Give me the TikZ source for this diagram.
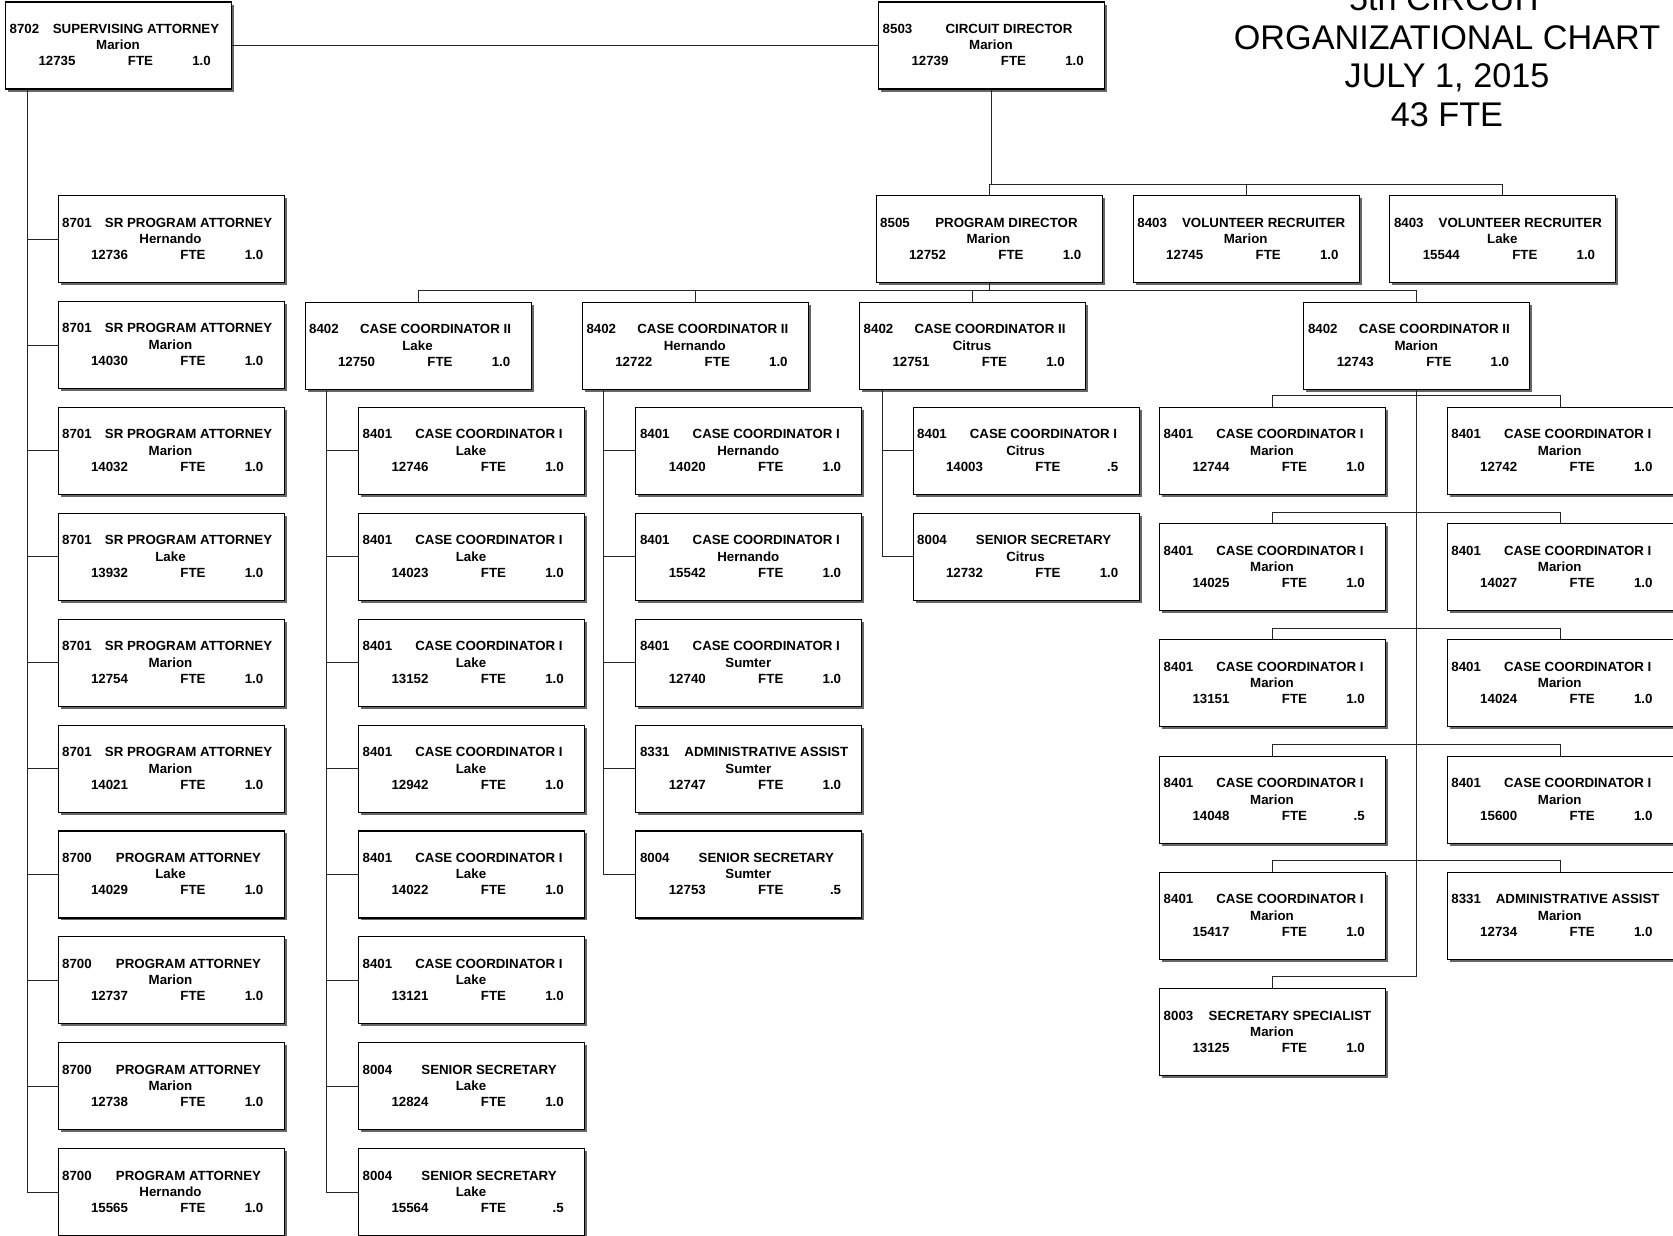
\documentclass[tikz,border=0pt]{standalone}
\usepackage{fontspec}
\setmainfont{Liberation Sans}
\usetikzlibrary{shadows}

\tikzset{
  jobbox/.style={draw=black, line width=1.1pt, fill=white,
    minimum width=226pt, minimum height=87pt, inner sep=0pt, anchor=north west,
    drop shadow={shadow xshift=2.5pt, shadow yshift=-2.5pt, fill=black!60, opacity=1}},
  txt/.style={inner sep=0pt, font=\fontsize{13.3}{15}\selectfont\bfseries},
  link/.style={draw=black!85, line width=0.9pt},
  headline/.style={inner sep=0pt, anchor=base, font=\fontsize{34.2}{39}\selectfont}
}

% #1 name, #2 left, #3 top, #4 code, #5 title, #6 location, #7 position number, #8 FTE value
\newcommand\placebox[8]{%
  \node[jobbox] (#1) at ({#2},{#3}) {};
  \path (#1.north west) ++(4.5,32)   node[txt,anchor=base west] {#4};
  \path (#1.north west) ++(131,32)   node[txt,anchor=base] {#5};
  \path (#1.north west) ++(113,48.5) node[txt,anchor=base] {#6};
  \path (#1.north west) ++(52,64.5)  node[txt,anchor=base] {#7};
  \path (#1.north west) ++(135.5,64.5) node[txt,anchor=base] {FTE};
  \path (#1.north west) ++(206,64.5) node[txt,anchor=base east] {#8};
}

\begin{document}
\begin{tikzpicture}[x=1pt,y=-1pt]
\useasboundingbox (0,0) rectangle (1673,1236);
\clip (0,0) rectangle (1673,1236);

% heading
\node[headline] (title1) at (1447,11)    {5th CIRCUIT};
\node[headline] (title2) at (1447,49.5)  {ORGANIZATIONAL CHART};
\node[headline] (title3) at (1447,88)    {JULY 1, 2015};
\node[headline] (title4) at (1447,126.5) {43 FTE};

% top level
\placebox{sup}{5}{1.5}{8702}{SUPERVISING ATTORNEY}{Marion}{12735}{1.0}
\placebox{dir}{878}{1.5}{8503}{CIRCUIT DIRECTOR}{Marion}{12739}{1.0}

% second level
\placebox{pd}{875.5}{195}{8505}{PROGRAM DIRECTOR}{Marion}{12752}{1.0}
\placebox{vm}{1132.7}{195}{8403}{VOLUNTEER RECRUITER}{Marion}{12745}{1.0}
\placebox{vl}{1389.3}{195}{8403}{VOLUNTEER RECRUITER}{Lake}{15544}{1.0}

% case coordinator II row
\placebox{c2l}{304.5}{301.7}{8402}{CASE COORDINATOR II}{Lake}{12750}{1.0}
\placebox{c2h}{581.8}{301.7}{8402}{CASE COORDINATOR II}{Hernando}{12722}{1.0}
\placebox{c2c}{859}{301.7}{8402}{CASE COORDINATOR II}{Citrus}{12751}{1.0}
\placebox{c2m}{1303.3}{301.7}{8402}{CASE COORDINATOR II}{Marion}{12743}{1.0}

% attorneys under the supervising attorney
\foreach \k/\c/\t/\l/\n/\f in {
  0/8701/SR PROGRAM ATTORNEY/Hernando/12736/1.0,
  1/8701/SR PROGRAM ATTORNEY/Marion/14030/1.0,
  2/8701/SR PROGRAM ATTORNEY/Marion/14032/1.0,
  3/8701/SR PROGRAM ATTORNEY/Lake/13932/1.0,
  4/8701/SR PROGRAM ATTORNEY/Marion/12754/1.0,
  5/8701/SR PROGRAM ATTORNEY/Marion/14021/1.0,
  6/8700/PROGRAM ATTORNEY/Lake/14029/1.0,
  7/8700/PROGRAM ATTORNEY/Marion/12737/1.0,
  8/8700/PROGRAM ATTORNEY/Marion/12738/1.0,
  9/8700/PROGRAM ATTORNEY/Hernando/15565/1.0}
  {\placebox{a\k}{57.5}{195+105.9*\k}{\c}{\t}{\l}{\n}{\f}}

% Lake staff
\foreach \k/\c/\t/\l/\n/\f in {
  2/8401/CASE COORDINATOR I/Lake/12746/1.0,
  3/8401/CASE COORDINATOR I/Lake/14023/1.0,
  4/8401/CASE COORDINATOR I/Lake/13152/1.0,
  5/8401/CASE COORDINATOR I/Lake/12942/1.0,
  6/8401/CASE COORDINATOR I/Lake/14022/1.0,
  7/8401/CASE COORDINATOR I/Lake/13121/1.0,
  8/8004/SENIOR SECRETARY/Lake/12824/1.0,
  9/8004/SENIOR SECRETARY/Lake/15564/.5}
  {\placebox{b\k}{358}{195+105.9*\k}{\c}{\t}{\l}{\n}{\f}}

% Hernando / Sumter staff
\foreach \k/\c/\t/\l/\n/\f in {
  2/8401/CASE COORDINATOR I/Hernando/14020/1.0,
  3/8401/CASE COORDINATOR I/Hernando/15542/1.0,
  4/8401/CASE COORDINATOR I/Sumter/12740/1.0,
  5/8331/ADMINISTRATIVE ASSIST/Sumter/12747/1.0,
  6/8004/SENIOR SECRETARY/Sumter/12753/.5}
  {\placebox{c\k}{635.3}{195+105.9*\k}{\c}{\t}{\l}{\n}{\f}}

% Citrus staff
\placebox{d2}{912.5}{406.8}{8401}{CASE COORDINATOR I}{Citrus}{14003}{.5}
\placebox{d3}{912.5}{512.7}{8004}{SENIOR SECRETARY}{Citrus}{12732}{1.0}

% Marion staff, two per row
\foreach \j/\nl/\fl/\cr/\tr/\nr/\fr in {
  0/12744/1.0/8401/CASE COORDINATOR I/12742/1.0,
  1/14025/1.0/8401/CASE COORDINATOR I/14027/1.0,
  2/13151/1.0/8401/CASE COORDINATOR I/14024/1.0,
  3/14048/.5/8401/CASE COORDINATOR I/15600/1.0,
  4/15417/1.0/8331/ADMINISTRATIVE ASSIST/12734/1.0}
  {\placebox{ml\j}{1159}{406.7+116.3*\j}{8401}{CASE COORDINATOR I}{Marion}{\nl}{\fl}
   \placebox{mr\j}{1446.7}{406.7+116.3*\j}{\cr}{\tr}{Marion}{\nr}{\fr}}
\placebox{ss}{1159}{988.3}{8003}{SECRETARY SPECIALIST}{Marion}{13125}{1.0}

% ---- connectors ----
\draw[link] (sup) -- (dir);

\coordinate (busA) at (0,184.5);
\draw[link] (dir.south) -- (dir.south |- busA);
\draw[link] (pd.north) -- (pd.north |- busA) -- (vl.north |- busA) -- (vl.north);
\draw[link] (vm.north) -- (vm.north |- busA);

\coordinate (busB) at (0,290);
\draw[link] (pd.south) -- (pd.south |- busB);
\draw[link] (c2l.north) -- (c2l.north |- busB) -- (c2m.north |- busB) -- (c2m.north);
\draw[link] (c2h.north) -- (c2h.north |- busB);
\draw[link] (c2c.north) -- (c2c.north |- busB);

% supervising attorney trunk
\coordinate (atr) at ([xshift=22pt]sup.south west);
\draw[link] (atr) -- (atr |- a9.west) -- (a9.west);
\foreach \k in {0,...,8} \draw[link] (atr |- a\k.west) -- (a\k.west);

% Lake trunk
\coordinate (btr) at ([xshift=21.5pt]c2l.south west);
\draw[link] (btr) -- (btr |- b9.west) -- (b9.west);
\foreach \k in {2,...,8} \draw[link] (btr |- b\k.west) -- (b\k.west);

% Hernando trunk
\coordinate (ctr) at ([xshift=22pt]c2h.south west);
\draw[link] (ctr) -- (ctr |- c6.west) -- (c6.west);
\foreach \k in {2,...,5} \draw[link] (ctr |- c\k.west) -- (c\k.west);

% Citrus trunk
\coordinate (dtr) at ([xshift=23pt]c2c.south west);
\draw[link] (dtr) -- (dtr |- d3.west) -- (d3.west);
\draw[link] (dtr |- d2.west) -- (d2.west);

% Marion trunk with a bar above each row
\foreach \j in {0,...,4} {
  \coordinate (bar\j) at ([yshift=11pt]ml\j.north);
  \draw[link] (ml\j.north) -- (bar\j) -- (bar\j -| mr\j.north) -- (mr\j.north);
}
\coordinate (bar5) at ([yshift=12pt]ss.north);
\draw[link] (c2m.south) -- (c2m.south |- bar5) -- (bar5) -- (ss.north);
\end{tikzpicture}
\end{document}
